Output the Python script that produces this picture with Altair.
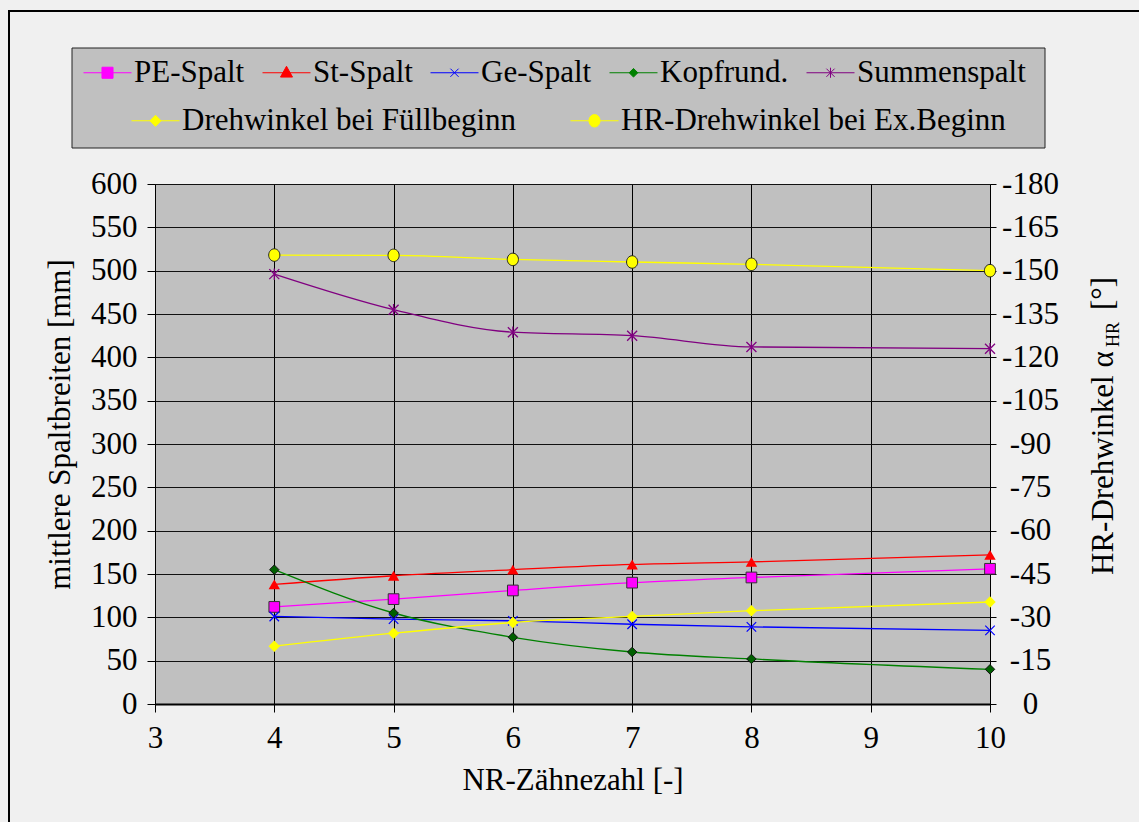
import altair as alt
import pandas as pd

FONT = "Liberation Serif, Times New Roman, Times, serif"
FS = 31

# ---- data ----
x_vals = [4, 5, 6, 7, 8, 10]
x_ticks = [3, 4, 5, 6, 7, 8, 9, 10]

left_names = ["PE-Spalt", "St-Spalt", "Ge-Spalt", "Kopfrund.", "Summenspalt"]
pe_spalt = [112, 121, 131, 140, 146, 156]
st_spalt = [138, 148, 155, 161, 164, 172]
ge_spalt = [101, 98, 96, 92, 89, 85]
kopfrund = [155, 105, 77, 60, 52, 40]
summenspalt = [496, 455, 429, 425, 412, 410]
left_series = [pe_spalt, st_spalt, ge_spalt, kopfrund, summenspalt]
left_colors = ["#ff00ff", "#ff0000", "#0000ff", "#008000", "#800080"]

right_names = ["Drehwinkel bei Füllbeginn", "HR-Drehwinkel bei Ex.Beginn"]
fuellbeginn = [-20.0, -24.5, -28.2, -30.3, -32.3, -35.3]
ex_beginn = [-155.4, -155.3, -153.9, -153.0, -152.2, -150.0]
right_series = [fuellbeginn, ex_beginn]
right_colors = ["#ffff00", "#ffff00"]

left_ticks = list(range(0, 601, 50))
right_ticks = list(range(0, -181, -15))

# right axis title, split for the subscript
right_title_parts = ["HR-Drehwinkel α", "HR", "[°]"]

left_df = pd.DataFrame(
    [{"x": x, "value": v, "Reihe": n} for n, s in zip(left_names, left_series) for x, v in zip(x_vals, s)]
)
right_df = pd.DataFrame(
    [{"x": x, "value": v, "Winkel": n} for n, s in zip(right_names, right_series) for x, v in zip(x_vals, s)]
)

# ---- marker styles ----
X_PATH = "M-1,-1L1,1M-1,1L1,-1"
AST_PATH = "M-1,-1L1,1M-1,1L1,-1M0,-1.15V1.15"
ELL_PATH = "M1,0A1,1.12 0 1 1 -1,0A1,1.12 0 1 1 1,0Z"

left_marker = {
    "PE-Spalt": dict(shape="square", size=115, filled=True, fill="#ff00ff", stroke="#333333", strokeWidth=1),
    "St-Spalt": dict(shape="triangle-up", size=130, filled=True, fill="#ff0000", strokeWidth=0),
    "Ge-Spalt": dict(shape=X_PATH, size=90, filled=False, stroke="#0000ff", strokeWidth=1.2),
    "Kopfrund.": dict(shape="diamond", size=90, filled=True, fill="#006000", stroke="#111111", strokeWidth=1),
    "Summenspalt": dict(shape=AST_PATH, size=100, filled=False, stroke="#800080", strokeWidth=1.3),
}
right_marker = {
    "Drehwinkel bei Füllbeginn": dict(shape="diamond", size=130, filled=True, fill="#ffff00", strokeWidth=0),
    "HR-Drehwinkel bei Ex.Beginn": dict(shape=ELL_PATH, size=125, filled=True, fill="#ffff00", stroke="#222222", strokeWidth=1),
}

# legend symbol paths (line + marker), unit space [-1,1]
left_legend_paths = [
    "M-1,0H1M-0.23,-0.23H0.23V0.23H-0.23Z",
    "M-1,0H1M0,-0.27L0.25,0.18H-0.25Z",
    "M-1,0H1M-0.17,-0.17L0.17,0.17M-0.17,0.17L0.17,-0.17",
    "M-1,0H1M0,-0.18L0.18,0L0,0.18L-0.18,0Z",
    "M-1,0H1M-0.17,-0.17L0.17,0.17M-0.17,0.17L0.17,-0.17M0,-0.21V0.21",
]
left_legend_fill = ["#ff00ff", "#ff0000", "transparent", "#008000", "transparent"]
right_legend_paths = [
    "M-1,0H1M0,-0.23L0.23,0L0,0.23L-0.23,0Z",
    "M-1,0H1M0.23,0A0.23,0.26 0 1 1 -0.23,0A0.23,0.26 0 1 1 0.23,0Z",
]
right_legend_fill = ["#ffff00", "#ffff00"]


def lookup_expr(names, vals):
    expr = "'" + vals[-1] + "'"
    for n, v in reversed(list(zip(names[:-1], vals[:-1]))):
        expr = "datum.value === '" + n + "' ? '" + v + "' : " + expr
    return expr


def legend(names, paths, fills, lx, ly, pad):
    return alt.Legend(
        title=None, orient="none", legendX=lx, legendY=ly, direction="horizontal",
        symbolSize=2304, symbolStrokeWidth=1, labelFont=FONT, labelFontSize=FS,
        labelColor="#000000", labelOffset=2, columnPadding=pad, labelLimit=0, padding=0,
        symbolType={"expr": lookup_expr(names, paths)},
        symbolFillColor={"expr": lookup_expr(names, fills)},
    )


# ---- encodings ----
x_enc = alt.X(
    "x:Q",
    scale=alt.Scale(domain=[3, 10], nice=False, zero=False),
    axis=alt.Axis(
        title="NR-Zähnezahl [-]", values=x_ticks, format="d", grid=True, gridColor="#000000",
        gridWidth=1, domainColor="#000000", domainWidth=2, tickColor="#000000", tickSize=8,
        labelFont=FONT, labelFontSize=FS, labelColor="#000000", labelPadding=11,
        labelFlush=False, labelOverlap=False, titleFont=FONT, titleFontSize=FS,
        titleFontWeight="normal", titleColor="#000000", titleY=85, titleBaseline="alphabetic",
    ),
)
y_left = alt.Y(
    "value:Q",
    scale=alt.Scale(domain=[0, 600], nice=False, zero=False),
    axis=alt.Axis(
        title="mittlere Spaltbreiten [mm]", values=left_ticks, grid=True, gridColor="#111111",
        gridWidth=1, domainColor="#000000", domainWidth=1, tickColor="#000000", tickSize=8,
        labelFont=FONT, labelFontSize=FS, labelColor="#000000", labelPadding=10,
        labelOverlap=False, titleFont=FONT, titleFontSize=FS, titleFontWeight="normal",
        titleColor="#000000", titleAngle=270, titleX=-95, titleY=240,
        titleBaseline="middle", titleAlign="center",
    ),
)
y_right = alt.Y(
    "value:Q",
    scale=alt.Scale(domain=[0, -180], nice=False, zero=False),
    axis=alt.Axis(
        orient="right", title=None, values=right_ticks, grid=False,
        domainColor="#000000", domainWidth=1, tickColor="#000000", tickSize=6,
        labelFont=FONT, labelFontSize=FS, labelColor="#000000", labelPadding=34,
        labelAlign="center", labelOverlap=False,
        labelExpr="datum.value == 0 ? '0' : '-' + abs(datum.value)",
    ),
)

# ---- left group ----
left_lines = alt.Chart(left_df).mark_line(interpolate="monotone", strokeWidth=1.3).encode(
    x=x_enc, y=y_left,
    color=alt.Color("Reihe:N", scale=alt.Scale(domain=left_names, range=left_colors),
                    legend=legend(left_names, left_legend_paths, left_legend_fill, -72, -136, 15)),
)
left_pts = [
    alt.Chart(left_df).transform_filter(alt.datum.Reihe == n).mark_point(opacity=1, **left_marker[n]).encode(x=x_enc, y=y_left)
    for n in left_names
]
left_group = alt.layer(left_lines, *left_pts)

# ---- right group ----
right_lines = alt.Chart(right_df).mark_line(interpolate="monotone", strokeWidth=1.3).encode(
    x=x_enc, y=y_right,
    stroke=alt.Stroke("Winkel:N", scale=alt.Scale(domain=right_names, range=right_colors),
                      legend=legend(right_names, right_legend_paths, right_legend_fill, -24, -88, 51)),
)
right_pts = [
    alt.Chart(right_df).transform_filter(alt.datum.Winkel == n).mark_point(opacity=1, **right_marker[n]).encode(x=x_enc, y=y_right)
    for n in right_names
]
right_group = alt.layer(right_lines, *right_pts)

# ---- decoration: outer frame, legend box, right axis title with subscript ----
one = pd.DataFrame({"k": [0]})
frame = alt.Chart(one).mark_rect(fill="transparent", stroke="#000000", strokeWidth=2).encode(
    x=alt.value(-146), x2=alt.value(1000), y=alt.value(-173), y2=alt.value(660)
)
legend_box = alt.Chart(one).mark_rect(fill="#c0c0c0", stroke="#222222", strokeWidth=1).encode(
    x=alt.value(-83), x2=alt.value(890), y=alt.value(-136), y2=alt.value(-36)
)
title_main = alt.Chart(one).mark_text(
    text=right_title_parts[0], font=FONT, fontSize=FS, angle=270, align="left",
    baseline="alphabetic", color="#000000",
).encode(x=alt.value(958), y=alt.value(391))
title_sub = alt.Chart(one).mark_text(
    text=right_title_parts[1], font=FONT, fontSize=18, angle=270, align="left",
    baseline="alphabetic", color="#000000",
).encode(x=alt.value(964), y=alt.value(163))
title_end = alt.Chart(one).mark_text(
    text=right_title_parts[2], font=FONT, fontSize=FS, angle=270, align="left",
    baseline="alphabetic", color="#000000",
).encode(x=alt.value(958), y=alt.value(126))

chart = (
    alt.layer(frame, legend_box, title_main, title_sub, title_end, left_group, right_group)
    .resolve_scale(y="independent")
    .properties(
        width=835, height=520,
        autosize=alt.AutoSizeParams(type="none"),
        padding={"left": 155, "top": 184, "right": 149, "bottom": 118},
        background="#f0f0f0",
    )
    .configure_view(fill="#c0c0c0", stroke=None)
)

chart.save("out.html", embed_options={"renderer": "svg", "actions": False})
